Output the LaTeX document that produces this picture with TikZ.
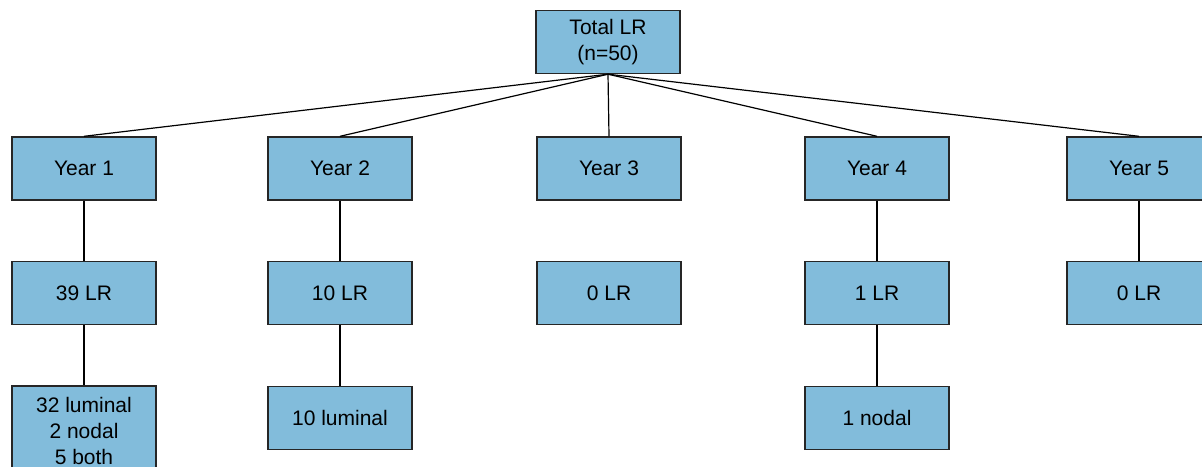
\documentclass[tikz,border=0pt]{standalone}
\usepackage{fontspec}
\setmainfont{Liberation Sans}
\definecolor{boxblue}{RGB}{130,188,219}
\tikzset{
  lrbox/.style={draw=black!85, line width=0.7pt, fill=boxblue,
    minimum width=72pt, minimum height=31.5pt, inner sep=0pt,
    align=center, font=\fontsize{10.5}{13}\selectfont},
  link/.style={line width=0.6pt}
}
\begin{document}
\begin{tikzpicture}[x=0.5pt,y=-0.5pt]
	\useasboundingbox (0,0) rectangle (1202,466);
	\clip (0,0) rectangle (1202,466);
	\node[lrbox] (total) at (608,42) {Total LR\\(n=50)};
	% years
	\foreach \i\x in {1/84,2/340,3/609,4/877,5/1139}{
		\node[lrbox] (year\i) at (\x,168.5) {Year \i};
		\draw[link] (total.south) -- (year\i.north);
	}
	% recurrences per year
	\foreach \i\x\n in {1/84/39,2/340/10,3/609/0,4/877/1,5/1139/0}{
		\node[lrbox] (lr\i) at (\x,293) {\n\ LR};
	}
	\foreach \i in {1,2,4,5}{
		\draw[link] (year\i.south) -- (lr\i.north);
	}
	% type of recurrence
	\node[lrbox, minimum height=45pt] (type1) at (84,431) {32 luminal\\2 nodal\\5 both};
	\node[lrbox] (type2) at (340,418) {10 luminal};
	\node[lrbox] (type4) at (877,418) {1 nodal};
	\foreach \i in {1,2,4}{
		\draw[link] (lr\i.south) -- (type\i.north);
	}
\end{tikzpicture}
\end{document}
